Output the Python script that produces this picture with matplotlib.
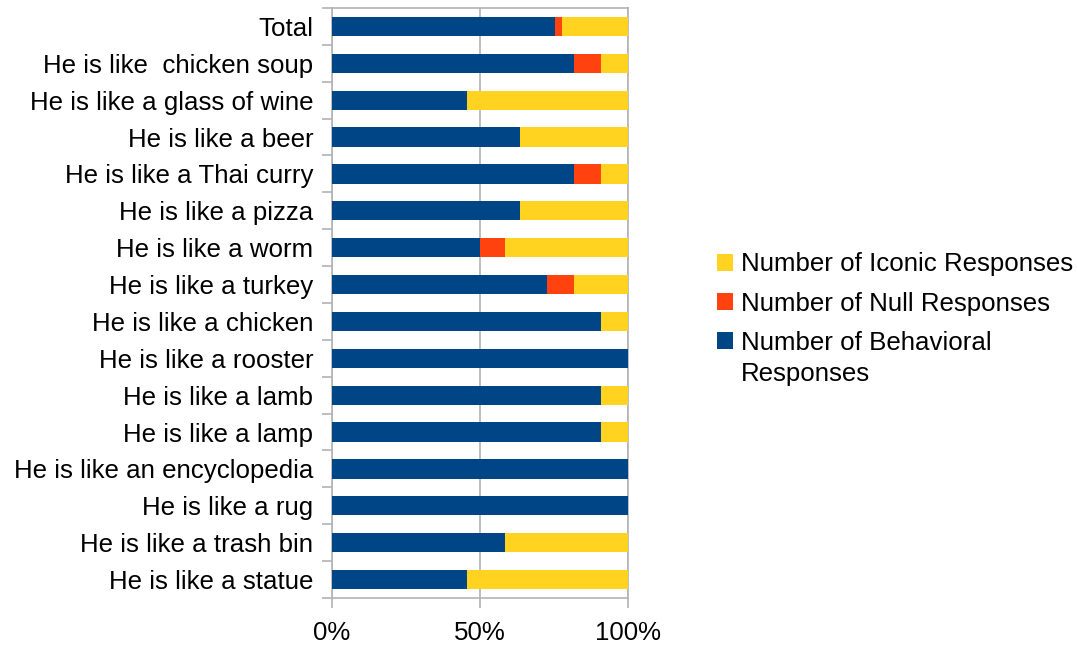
import matplotlib
matplotlib.use("Agg")
import matplotlib.pyplot as plt
import matplotlib.ticker as mticker
import numpy as np

plt.rcParams["font.family"] = ["Liberation Sans", "DejaVu Sans"]

# ── Data (response counts per simile, top row first) ─────────────────────────
labels = [
    "Total",
    "He is like  chicken soup",
    "He is like a glass of wine",
    "He is like a beer",
    "He is like a Thai curry",
    "He is like a pizza",
    "He is like a worm",
    "He is like a turkey",
    "He is like a chicken",
    "He is like a rooster",
    "He is like a lamb",
    "He is like a lamp",
    "He is like an encyclopedia",
    "He is like a rug",
    "He is like a trash bin",
    "He is like a statue",
]
behavioral = [126, 9, 5, 7, 9, 7, 6, 8, 10, 11, 10, 10, 11, 11, 7, 5]
null       = [4, 1, 0, 0, 1, 0, 1, 1, 0, 0, 0, 0, 0, 0, 0, 0]
iconic     = [37, 1, 6, 4, 1, 4, 5, 2, 1, 0, 1, 1, 0, 0, 5, 6]

C = {
    "behavioral": "#004586",
    "null":       "#ff420e",
    "iconic":     "#ffd320",
    "grid":       "#b3b3b3",
}
FS = 18.6

# ── Normalise to shares ──────────────────────────────────────────────────────
b = np.array(behavioral, dtype=float)
n = np.array(null, dtype=float)
i = np.array(iconic, dtype=float)
tot = b + n + i
b, n, i = b / tot, n / tot, i / tot

y = np.arange(len(labels))

fig = plt.figure(figsize=(10.77, 6.49), dpi=100)
ax = fig.add_axes([0.3083, 0.0786, 0.2748, 0.9091])

h = 0.52
bar_b = ax.barh(y, b, height=h, color=C["behavioral"], zorder=3)
bar_n = ax.barh(y, n, left=b, height=h, color=C["null"], zorder=3)
bar_i = ax.barh(y, i, left=b + n, height=h, color=C["iconic"], zorder=3)

ax.set_ylim(len(labels) - 0.5, -0.5)
ax.set_xlim(0, 1)

# y axis: labels centred, tick marks between categories
ax.set_yticks(y)
ax.set_yticklabels(labels, fontsize=FS)
ax.yaxis.set_minor_locator(mticker.FixedLocator(np.arange(-0.5, len(labels), 1)))
ax.tick_params(axis="y", which="major", length=0, pad=13.5)
ax.tick_params(axis="y", which="minor", length=7, color=C["grid"], width=1.2)

# x axis: percentage ticks with vertical gridlines
ax.set_xticks([0, 0.5, 1])
ax.xaxis.set_major_formatter(mticker.FuncFormatter(lambda v, _: f"{v*100:.0f}%"))
ax.tick_params(axis="x", length=7, color=C["grid"], width=1.2, labelsize=FS, pad=9.5)
ax.grid(axis="x", color=C["grid"], linewidth=1.2, zorder=0)

for side in ["left", "top", "bottom", "right"]:
    ax.spines[side].set_color(C["grid"])
    ax.spines[side].set_linewidth(1.2)

# legend, series in reverse stacking order; second line of the last label
# hangs under its first line
handles = [bar_i, bar_n, bar_b]
names = ["Number of Iconic Responses", "Number of Null Responses",
         "Number of Behavioral"]
leg = fig.legend(handles, names, loc="upper left", bbox_to_anchor=(0.6535, 0.631),
                 frameon=False, fontsize=FS, handlelength=0.62, handleheight=0.62,
                 handletextpad=0.31, labelspacing=0.59, borderpad=0)

fig.canvas.draw()
last = leg.get_texts()[-1].get_window_extent()
x0, y0 = fig.transFigure.inverted().transform((last.x0, last.y0))
fig.text(x0, y0 - 31 / 649, "Responses", fontsize=FS, ha="left", va="bottom")

fig.savefig("out.png", dpi=100, facecolor="white")
plt.close("all")
